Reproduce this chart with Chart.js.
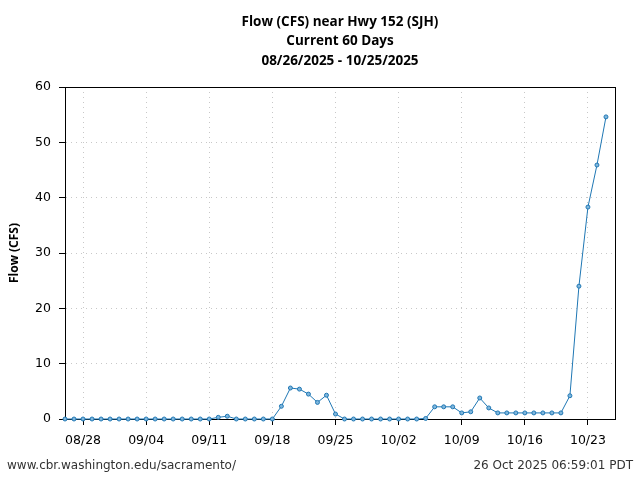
<!DOCTYPE html>
<html><head><meta charset="utf-8">
<script src="https://cdn.jsdelivr.net/npm/chart.js@4"></script>
<style>html,body{margin:0;padding:0;background:#fff;}canvas{display:block;}</style>
</head><body>
<canvas id="c" width="640" height="480"></canvas>
<script>
const titleLines = ['Flow (CFS) near Hwy 152 (SJH)', 'Current 60 Days', '08/26/2025 - 10/25/2025'];
const yAxisTitle = 'Flow (CFS)';
const footerLeft = 'www.cbr.washington.edu/sacramento/';
const footerRight = '26 Oct 2025 06:59:01 PDT';

const dates = ['08/26','08/27','08/28','08/29','08/30','08/31',
 '09/01','09/02','09/03','09/04','09/05','09/06','09/07','09/08','09/09','09/10',
 '09/11','09/12','09/13','09/14','09/15','09/16','09/17','09/18','09/19','09/20',
 '09/21','09/22','09/23','09/24','09/25','09/26','09/27','09/28','09/29','09/30',
 '10/01','10/02','10/03','10/04','10/05','10/06','10/07','10/08','10/09','10/10',
 '10/11','10/12','10/13','10/14','10/15','10/16','10/17','10/18','10/19','10/20',
 '10/21','10/22','10/23','10/24','10/25'];
const flows = [0,0,0,0,0,0,
 0,0,0,0,0,0,0,0,0,0,
 0,0.3,0.5,0,0,0,0,0,2.3,5.6,
 5.4,4.5,3.0,4.3,0.9,0,0,0,0,0,
 0,0,0,0,0.1,2.2,2.2,2.2,1.1,1.3,
 3.8,2.0,1.1,1.1,1.1,1.1,1.1,1.1,1.1,1.1,
 4.2,24.0,38.3,45.9,54.6];
const xTickLabels = ['08/28','09/04','09/11','09/18','09/25','10/02','10/09','10/16','10/23'];
const yTicks = [0,10,20,30,40,50,60];

const xTickPos = xTickLabels.map(l => dates.indexOf(l));
const points = flows.map((v, i) => ({x: i, y: v}));

const decor = {
  id: 'decor',
  beforeDatasetsDraw(chart) {
    const ctx = chart.ctx, a = chart.chartArea;
    ctx.save();
    ctx.strokeStyle = '#000'; ctx.lineWidth = 1;
    ctx.strokeRect(Math.round(a.left) + 0.5, Math.round(a.top) + 0.5, Math.round(a.right - a.left), Math.round(a.bottom - a.top));
    ctx.restore();
  },
  afterDraw(chart) {
    const ctx = chart.ctx, a = chart.chartArea;
    ctx.save();
    ctx.fillStyle = '#000';
    ctx.font = 'bold 13.5px "Open Sans"';
    ctx.textAlign = 'center'; ctx.textBaseline = 'middle';
    const cx = (a.left + a.right) / 2;
    titleLines.forEach((t, i) => ctx.fillText(t, cx, 22 + i * 19.5));
    ctx.translate(15, (a.top + a.bottom) / 2);
    ctx.rotate(-Math.PI / 2);
    ctx.font = 'bold 12px "Open Sans"';
    ctx.fillText(yAxisTitle, 0, 0);
    ctx.restore();
    ctx.save();
    ctx.fillStyle = '#333';
    ctx.font = '12px "DejaVu Sans"';
    ctx.textBaseline = 'middle';
    ctx.textAlign = 'left';
    ctx.fillText(footerLeft, 7, 466);
    ctx.textAlign = 'right';
    ctx.fillText(footerRight, 633, 466);
    ctx.restore();
  }
};

new Chart(document.getElementById('c'), {
  type: 'line',
  data: { datasets: [{
    data: points,
    borderColor: '#1f77b4',
    backgroundColor: '#7fb6dc',
    borderWidth: 1,
    pointRadius: 2,
    pointBorderWidth: 1,
    pointBorderColor: '#1f77b4',
    pointBackgroundColor: '#7fb6dc',
    tension: 0,
    clip: false
  }]},
  options: {
    responsive: false,
    animation: false,
    layout: { padding: { top: 87, right: 25, bottom: 0, left: 0 } },
    plugins: { legend: { display: false }, title: { display: false }, tooltip: { enabled: false } },
    scales: {
      x: {
        type: 'linear', min: 0, max: 61,
        afterBuildTicks(s) { s.ticks = xTickPos.map(v => ({value: v})); },
        afterFit(s) { s.height = 61; },
        ticks: { autoSkip: false, maxRotation: 0, color: '#000', font: { family: 'DejaVu Sans', size: 12.5 }, padding: 8,
          callback(v) { const i = xTickPos.indexOf(v); return i >= 0 ? xTickLabels[i] : ''; } },
        grid: { color: '#c8c8c8', tickColor: '#000', tickLength: 6, tickBorderDash: [], tickWidth: 1, lineWidth: 1 },
        border: { display: true, color: '#000', dash: [1, 4] }
      },
      y: {
        min: 0, max: 60,
        afterBuildTicks(s) { s.ticks = yTicks.map(v => ({value: v})); },
        afterFit(s) { s.width = 65; },
        ticks: { color: '#000', font: { family: 'DejaVu Sans', size: 12.5 }, padding: 8 },
        grid: { color: '#c8c8c8', tickColor: '#000', tickLength: 6, tickBorderDash: [], tickWidth: 1, lineWidth: 1 },
        border: { display: true, color: '#000', dash: [1, 4] }
      }
    }
  },
  plugins: [decor]
});
</script>
</body></html>
